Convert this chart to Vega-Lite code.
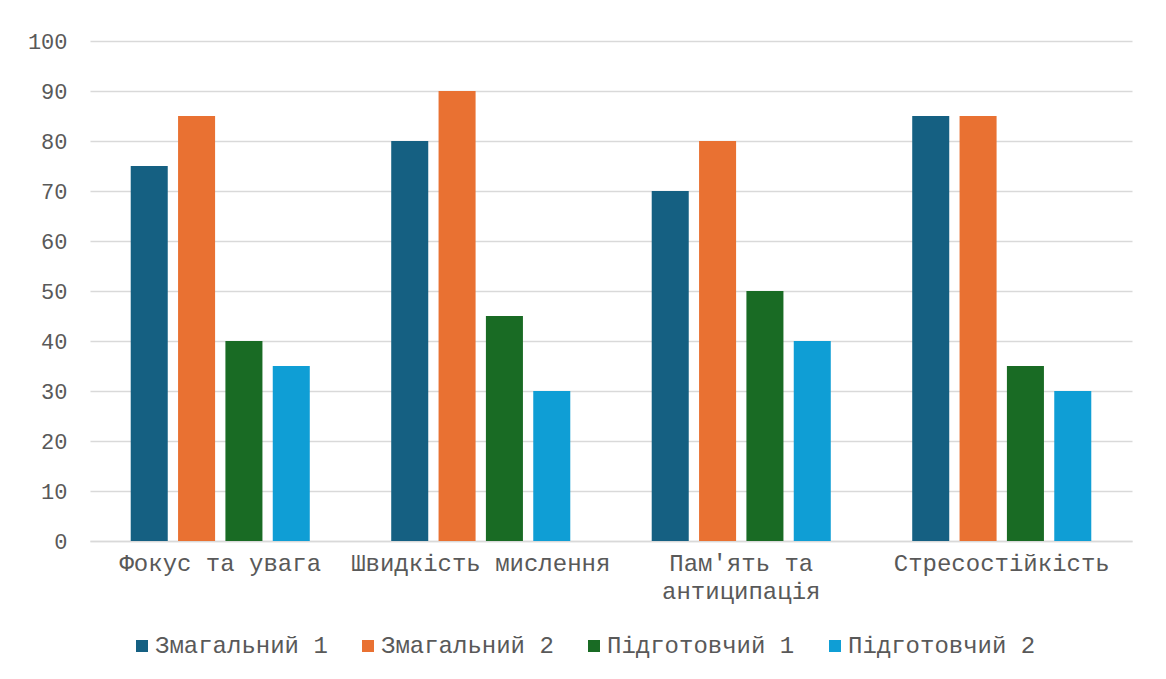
{
  "$schema": "https://vega.github.io/schema/vega-lite/v6.json",
  "autosize": {"type": "none"},
  "padding": {"left": 90, "top": 41, "right": 34, "bottom": 138},
  "width": 1042,
  "height": 500,
  "background": "white",
  "config": {
    "view": {"stroke": null},
    "font": "Liberation Mono"
  },
  "data": {
    "values": [
      {"category": "Фокус та увага", "series": "Змагальний 1", "value": 75},
      {"category": "Фокус та увага", "series": "Змагальний 2", "value": 85},
      {"category": "Фокус та увага", "series": "Підготовчий 1", "value": 40},
      {"category": "Фокус та увага", "series": "Підготовчий 2", "value": 35},
      {"category": "Швидкість мислення", "series": "Змагальний 1", "value": 80},
      {"category": "Швидкість мислення", "series": "Змагальний 2", "value": 90},
      {"category": "Швидкість мислення", "series": "Підготовчий 1", "value": 45},
      {"category": "Швидкість мислення", "series": "Підготовчий 2", "value": 30},
      {"category": "Пам'ять та антиципація", "series": "Змагальний 1", "value": 70},
      {"category": "Пам'ять та антиципація", "series": "Змагальний 2", "value": 80},
      {"category": "Пам'ять та антиципація", "series": "Підготовчий 1", "value": 50},
      {"category": "Пам'ять та антиципація", "series": "Підготовчий 2", "value": 40},
      {"category": "Стресостійкість", "series": "Змагальний 1", "value": 85},
      {"category": "Стресостійкість", "series": "Змагальний 2", "value": 85},
      {"category": "Стресостійкість", "series": "Підготовчий 1", "value": 35},
      {"category": "Стресостійкість", "series": "Підготовчий 2", "value": 30}
    ]
  },
  "mark": {"type": "bar"},
  "encoding": {
    "x": {
      "field": "category",
      "type": "nominal",
      "sort": null,
      "scale": {"paddingInner": 0.273, "paddingOuter": 0.1365},
      "axis": {
        "title": null,
        "labelAngle": 0,
        "labelFont": "Liberation Mono",
        "labelFontSize": 24,
        "labelColor": "#595959",
        "labelPadding": 10,
        "labelLineHeight": 28,
        "labelLimit": 0,
        "labelExpr": "datum.label == \"Пам'ять та антиципація\" ? [\"Пам'ять та\", \"антиципація\"] : datum.label",
        "ticks": false,
        "domainColor": "#d9d9d9",
        "domainWidth": 1.5,
        "grid": false
      }
    },
    "y": {
      "field": "value",
      "type": "quantitative",
      "scale": {"domain": [0, 100], "nice": false},
      "axis": {
        "title": null,
        "values": [0, 10, 20, 30, 40, 50, 60, 70, 80, 90, 100],
        "labelFont": "Liberation Mono",
        "labelFontSize": 22,
        "labelColor": "#595959",
        "labelPadding": 23,
        "ticks": false,
        "domain": false,
        "gridColor": "#d9d9d9",
        "gridWidth": 1.5
      }
    },
    "xOffset": {
      "field": "series",
      "type": "nominal",
      "sort": ["Змагальний 1", "Змагальний 2", "Підготовчий 1", "Підготовчий 2"],
      "scale": {"paddingInner": 0.218, "paddingOuter": 0.109}
    },
    "color": {
      "field": "series",
      "type": "nominal",
      "sort": ["Змагальний 1", "Змагальний 2", "Підготовчий 1", "Підготовчий 2"],
      "scale": {
        "domain": ["Змагальний 1", "Змагальний 2", "Підготовчий 1", "Підготовчий 2"],
        "range": ["#156082", "#E97132", "#196B24", "#0F9ED5"]
      },
      "legend": {
        "title": null,
        "orient": "none",
        "legendX": 40,
        "legendY": 593,
        "direction": "horizontal",
        "symbolType": "square",
        "symbolSize": 144,
        "symbolStrokeWidth": 0,
        "labelFont": "Liberation Mono",
        "labelFontSize": 24,
        "labelColor": "#595959",
        "labelOffset": 1,
        "columnPadding": 28,
        "labelLimit": 400
      }
    }
  }
}
